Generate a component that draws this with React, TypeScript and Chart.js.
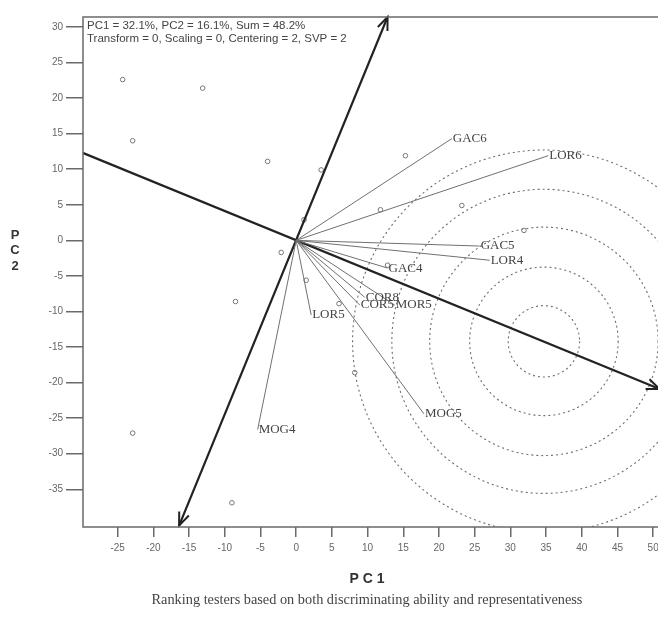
import React, { useEffect, useRef } from "react";
import { Chart, registerables } from "chart.js";

Chart.register(...registerables);

// ---- data ----
const testerNames = ["GAC6", "LOR6", "GAC5", "LOR4", "GAC4", "COR8", "COR5", "MOR5", "LOR5", "MOG4", "MOG5"];
const testerX = [21.8, 35.3, 25.7, 27.1, 12.8, 9.6, 8.9, 13.8, 2.1, -5.4, 17.9];
const testerY = [14.3, 11.9, -0.8, -2.8, -3.9, -8.0, -9.1, -9.1, -10.5, -26.6, -24.4];

const pointX = [-24.3, -13.1, -22.9, -4.0, 3.5, 15.3, 11.8, 23.2, 31.9, 1.1, -2.1, 1.4, 6.0, 12.8, -8.5, 8.2, -22.9, -9.0];
const pointY = [22.6, 21.4, 14.0, 11.1, 9.9, 11.9, 4.3, 4.9, 1.4, 2.9, -1.7, -5.6, -8.9, -3.5, -8.6, -18.6, -27.1, -36.9];

const aeaX = [-29.9, 50.9];
const aeaY = [12.3, -20.9];
const perpX = [-16.4, 12.8];
const perpY = [-40.1, 31.4];

const circleCenterX = 34.7;
const circleCenterY = -14.2;
const circleRadii = [5.0, 10.4, 16.0, 21.3, 26.8];

const xTicks = [-25, -20, -15, -10, -5, 0, 5, 10, 15, 20, 25, 30, 35, 40, 45, 50];
const yTicks = [30, 25, 20, 15, 10, 5, 0, -5, -10, -15, -20, -25, -30, -35];

const statsLines = [
  "PC1 = 32.1%, PC2 = 16.1%, Sum = 48.2%",
  "Transform = 0, Scaling = 0, Centering = 2, SVP = 2",
];
const xTitle = "P C 1";
const yTitleLetters = ["P", "C", "2"];
const caption = "Ranking testers based on both discriminating ability and representativeness";

const W = 658;
const H = 601;

function arrowHead(ctx: CanvasRenderingContext2D, fx: number, fy: number, tx: number, ty: number) {
  const ang = Math.atan2(ty - fy, tx - fx);
  const len = 14;
  const spread = 0.38;
  ctx.beginPath();
  ctx.moveTo(tx - len * Math.cos(ang - spread), ty - len * Math.sin(ang - spread));
  ctx.lineTo(tx, ty);
  ctx.lineTo(tx - len * Math.cos(ang + spread), ty - len * Math.sin(ang + spread));
  ctx.stroke();
}

const decorPlugin = {
  id: "decor",
  beforeDatasetsDraw(chart: any) {
    const { ctx, chartArea: a } = chart;
    const x = chart.scales.x;
    const y = chart.scales.y;
    ctx.save();
    ctx.beginPath();
    ctx.rect(a.left, a.top, a.right - a.left, a.bottom - a.top);
    ctx.clip();
    const cx = x.getPixelForValue(circleCenterX);
    const cy = y.getPixelForValue(circleCenterY);
    ctx.strokeStyle = "#6e6e6e";
    ctx.lineWidth = 1.1;
    ctx.setLineDash([2, 3]);
    circleRadii.forEach((r) => {
      const rp = x.getPixelForValue(circleCenterX + r) - cx;
      ctx.beginPath();
      ctx.arc(cx, cy, rp, 0, Math.PI * 2);
      ctx.stroke();
    });
    ctx.restore();
  },
  afterDatasetsDraw(chart: any) {
    const { ctx, chartArea: a } = chart;
    const x = chart.scales.x;
    const y = chart.scales.y;
    ctx.save();
    // arrowheads
    ctx.strokeStyle = "#222";
    ctx.lineWidth = 2;
    ctx.setLineDash([]);
    const ax0 = x.getPixelForValue(aeaX[0]), ay0 = y.getPixelForValue(aeaY[0]);
    const ax1 = x.getPixelForValue(aeaX[1]), ay1 = y.getPixelForValue(aeaY[1]);
    arrowHead(ctx, ax0, ay0, ax1, ay1);
    const px0 = x.getPixelForValue(perpX[0]), py0 = y.getPixelForValue(perpY[0]);
    const px1 = x.getPixelForValue(perpX[1]), py1 = y.getPixelForValue(perpY[1]);
    arrowHead(ctx, px0, py0, px1, py1);
    arrowHead(ctx, px1, py1, px0, py0);

    // tester labels
    ctx.fillStyle = "#444";
    ctx.font = "13px 'Liberation Serif'";
    ctx.textAlign = "left";
    ctx.textBaseline = "middle";
    testerNames.forEach((n, i) => {
      ctx.fillText(n, x.getPixelForValue(testerX[i]) + 1, y.getPixelForValue(testerY[i]));
    });

    // frame
    ctx.strokeStyle = "#6a6a6a";
    ctx.lineWidth = 1.5;
    ctx.beginPath();
    ctx.moveTo(a.right + 2, a.top);
    ctx.lineTo(a.left, a.top);
    ctx.lineTo(a.left, a.bottom);
    ctx.lineTo(a.right + 2, a.bottom);
    ctx.stroke();

    // stats text
    ctx.fillStyle = "#444";
    ctx.font = "11.5px 'Liberation Sans'";
    ctx.textBaseline = "middle";
    ctx.fillText(statsLines[0], a.left + 4, a.top + 9);
    ctx.fillText(statsLines[1], a.left + 4, a.top + 22);

    // axis titles
    ctx.fillStyle = "#333";
    ctx.font = "bold 14px 'Liberation Sans'";
    ctx.textAlign = "center";
    ctx.fillText(xTitle, 359, 571);
    ctx.font = "bold 13px 'Liberation Sans'";
    yTitleLetters.forEach((l, i) => ctx.fillText(l, 7, 227 + i * 15.5));

    // caption
    ctx.fillStyle = "#444";
    ctx.font = "12px 'Liberation Serif'";
    const m = ctx.measureText(caption).width;
    const size = (12 * 431) / m;
    ctx.font = size.toFixed(2) + "px 'Liberation Serif'";
    ctx.fillText(caption, 359, 592);
    ctx.restore();
  },
};

export default function App() {
  const ref = useRef<HTMLCanvasElement | null>(null);
  useEffect(() => {
    if (!ref.current) return;
    const tickFont = { family: "'Liberation Sans'", size: 10 };
    const lineDs = (xs: number[], ys: number[], color: string, width: number) => ({
      data: xs.map((v, i) => ({ x: v, y: ys[i] })),
      showLine: true,
      borderColor: color,
      borderWidth: width,
      pointRadius: 0,
      fill: false,
    });
    const datasets: any[] = [
      ...testerNames.map((_, i) => lineDs([0, testerX[i]], [0, testerY[i]], "#707070", 1)),
      lineDs(aeaX, aeaY, "#222", 2.2),
      lineDs(perpX, perpY, "#222", 2.2),
      {
        data: pointX.map((v, i) => ({ x: v, y: pointY[i] })),
        showLine: false,
        pointRadius: 2.3,
        pointBorderColor: "#777",
        pointBackgroundColor: "rgba(255,255,255,0)",
        pointBorderWidth: 1,
      },
    ];
    const chart = new Chart(ref.current, {
      type: "scatter",
      data: { datasets },
      plugins: [decorPlugin],
      options: {
        animation: false,
        responsive: false,
        events: [],
        layout: { padding: { top: 5, left: 0, right: 0, bottom: 0 } },
        plugins: { legend: { display: false }, tooltip: { enabled: false } },
        scales: {
          x: {
            type: "linear",
            min: -29.86,
            max: 51.1,
            afterBuildTicks: (s: any) => {
              s.ticks = xTicks.map((v) => ({ value: v }));
            },
            afterFit: (s: any) => {
              s.height = 82;
            },
            grid: { drawOnChartArea: false, drawTicks: true, tickLength: 10, color: "#6a6a6a", lineWidth: 1.5 },
            border: { display: false },
            ticks: { font: tickFont, color: "#666", padding: 5, maxRotation: 0, autoSkip: false },
          },
          y: {
            type: "linear",
            min: -40.3,
            max: 31.4,
            afterBuildTicks: (s: any) => {
              s.ticks = yTicks.map((v) => ({ value: v }));
            },
            afterFit: (s: any) => {
              s.width = 75;
            },
            grid: { drawOnChartArea: false, drawTicks: true, tickLength: 17, color: "#6a6a6a", lineWidth: 1.5 },
            border: { display: false },
            ticks: { font: tickFont, color: "#666", padding: 3, autoSkip: false },
          },
        },
      } as any,
    });
    return () => chart.destroy();
  }, []);
  return (
    <div style={{ width: W, height: H, overflow: "hidden" }}>
      <canvas ref={ref} width={W} height={H} style={{ display: "block", width: W, height: H }} />
    </div>
  );
}
